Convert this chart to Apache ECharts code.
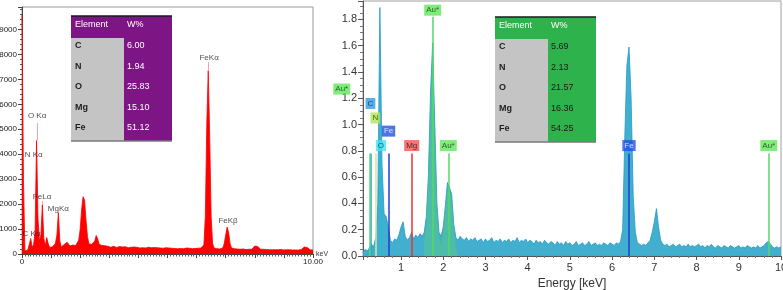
<!DOCTYPE html>
<html>
<head>
<meta charset="utf-8">
<script src="https://cdn.jsdelivr.net/npm/echarts@6/dist/echarts.min.js"></script>
<style>
html, body { margin: 0; padding: 0; background: #fff; }
#chart { width: 783px; height: 290px; }
</style>
</head>
<body>
<div id="chart"></div>
<script>
// --- Données ---

// Tableaux de composition (W%)
const elements = ['C', 'N', 'O', 'Mg', 'Fe'];
const wGauche = ['6.00', '1.94', '25.83', '15.10', '51.12'];
const wDroite = ['5.69', '2.13', '21.57', '16.36', '54.25'];

// Spectre de gauche : comptages tous les 0.05 keV, de 0 à 10 keV
const pasGauche = 0.05;
const debutGauche = 0;
const comptagesGauche = [
    9600, 3000, 120, 90, 160, 380, 620, 260, 380, 900, 4550, 1400, 520, 760, 1980, 620, 330, 660, 420, 260,
    320, 290, 340, 430, 760, 1660, 520, 280, 330, 380, 450, 470, 390, 320, 300, 360, 310, 340, 400, 560,
    1000, 1800, 2300, 2150, 1350, 700, 400, 360, 390, 420, 520, 740, 610, 390, 320, 340, 300, 330, 290, 310,
    300, 270, 290, 310, 280, 260, 290, 300, 270, 280, 260, 290, 270, 250, 280, 270, 260, 280, 250, 270,
    260, 240, 270, 250, 260, 240, 250, 270, 240, 250, 230, 260, 240, 250, 230, 240, 260, 230, 240, 250,
    230, 240, 220, 230, 250, 220, 230, 210, 240, 220, 230, 210, 220, 240, 210, 230, 220, 210, 230, 220,
    210, 230, 220, 240, 250, 360, 1500, 5200, 7350, 4700, 1500, 420, 240, 220, 210, 230, 200, 220, 240, 420,
    760, 1080, 860, 420, 240, 200, 210, 190, 200, 210, 190, 180, 200, 190, 180, 200, 190, 180, 190, 240,
    320, 380, 300, 220, 190, 180, 190, 170, 180, 190, 170, 180, 170, 190, 170, 180, 170, 160, 180, 170,
    160, 180, 170, 160, 170, 180, 160, 170, 160, 170, 160, 170, 180, 220, 280, 330, 260, 190, 170, 160,
    160
];

// Pics annotés du spectre de gauche
const picsGauche = ['O Kα', 'N Kα', 'FeLα', 'MgKα', 'C Kα', 'FeKα', 'FeKβ'];
const picsGaucheKeV = [0.52, 0.40, 0.69, 1.25, 0.33, 6.43, 7.08];
const picsGaucheHaut = [5520, 3960, 2280, 1800, 800, 7880, 1320];
// traits roses au-dessus des pics : [keV, bas, haut]
const traitsGauche = [[0.52, 4560, 5250], [0.70, 1980, 2120], [6.40, 7350, 7700]];

// Spectre de droite : intensité tous les 0.05 keV, de 0.10 à 10 keV
const pasDroite = 0.05;
const debutDroite = 0.1;
const intensitesDroite = [
    0.03, 0.05, 0.04, 0.06, 0.09, 0.07, 0.14, 0.40, 1.89, 0.70, 0.32, 0.30, 0.22, 0.12, 0.10, 0.13, 0.12, 0.16,
    0.22, 0.26, 0.15, 0.12, 0.14, 0.18, 0.13, 0.16, 0.14, 0.17, 0.15, 0.18, 0.30, 0.62, 1.25, 1.62, 1.00, 0.40, 0.18, 0.15,
    0.22, 0.38, 0.56, 0.52, 0.47, 0.24, 0.14, 0.12, 0.15, 0.13, 0.12, 0.14, 0.11, 0.13, 0.12, 0.14, 0.11, 0.12, 0.13, 0.10,
    0.13, 0.11, 0.12, 0.14, 0.10, 0.12, 0.11, 0.13, 0.10, 0.12, 0.11, 0.13, 0.10, 0.12, 0.11, 0.14, 0.10, 0.12, 0.11, 0.13,
    0.10, 0.12, 0.11, 0.09, 0.12, 0.10, 0.11, 0.09, 0.12, 0.10, 0.09, 0.11, 0.10, 0.08, 0.11, 0.09, 0.10, 0.08, 0.11, 0.09,
    0.10, 0.08, 0.09, 0.11, 0.08, 0.09, 0.10, 0.08, 0.09, 0.11, 0.08, 0.09, 0.10, 0.08, 0.09, 0.08, 0.10, 0.09, 0.08, 0.10,
    0.09, 0.08, 0.10, 0.09, 0.11, 0.20, 0.90, 1.45, 1.59, 1.20, 0.45, 0.18, 0.10, 0.09, 0.08, 0.09, 0.08, 0.10, 0.12, 0.18,
    0.26, 0.36, 0.22, 0.12, 0.09, 0.08, 0.09, 0.07, 0.08, 0.09, 0.07, 0.08, 0.09, 0.07, 0.08, 0.07, 0.09, 0.07, 0.08, 0.07,
    0.08, 0.09, 0.07, 0.08, 0.06, 0.08, 0.07, 0.09, 0.07, 0.06, 0.08, 0.07, 0.06, 0.08, 0.07, 0.06, 0.08, 0.07, 0.06, 0.07,
    0.08, 0.06, 0.07, 0.06, 0.08, 0.07, 0.06, 0.07, 0.06, 0.08, 0.06, 0.07, 0.08, 0.10, 0.11, 0.09, 0.07, 0.06, 0.07, 0.06,
    0.07
];

// Composante verte (Au) autour des pics à 1.75 et 2.12 keV
const composanteAu = [
    [1.55, 0.10], [1.60, 0.22], [1.65, 0.55], [1.70, 1.15], [1.75, 1.50], [1.80, 0.92], [1.85, 0.34],
    [1.90, 0.12], [1.95, 0.08], [2.00, 0.16], [2.05, 0.33], [2.10, 0.52], [2.15, 0.49], [2.20, 0.43],
    [2.25, 0.20], [2.30, 0.06], [2.35, 0.00]
];

// Raies identifiées sur le spectre de droite
const raies = ['C', 'Au*', 'N', 'O', 'Fe', 'Mg', 'Au*', 'Au*', 'Fe', 'Au*'];
const raiesKeV = [0.277, 0.26, 0.392, 0.525, 0.705, 1.254, 1.75, 2.12, 6.40, 9.71];

// --- Mise en forme des raies (positions en unités d'axe) ---
const raiesHaut = [0.78, 0.78, 0.78, 0.78, 0.78, 0.78, 1.82, 0.78, 0.78, 0.78];
const raiesEtiquetteY = [1.16, 1.27, 1.05, 0.84, 0.95, 0.84, 1.87, 0.84, 0.84, 0.84];
const raiesDecalage = [0, -28, 0, 0, 0, 0, 0, 0, 0, 0];
const couleursRaies = {
    'C':   { fond: '#2f9be4', texte: '#10243a', trait: '#2f9be4' },
    'Au*': { fond: '#5fe65a', texte: '#153a12', trait: '#55d86a' },
    'N':   { fond: '#b3e653', texte: '#2b3a10', trait: '#d6e6a0' },
    'O':   { fond: '#3fe4f2', texte: '#0d3640', trait: '#28b8da' },
    'Fe':  { fond: '#1f52e0', texte: '#ffffff', trait: '#1a40d0' },
    'Mg':  { fond: '#f05252', texte: '#3a0d0d', trait: '#e83434' }
};

const police = 'Liberation Sans, Arial, sans-serif';

/**
 * Construit les éléments graphiques d'un tableau de composition
 */
function tableau(x, y, couleur, valeurs, couleurValeurs) {
    const larg = 101, colGris = 53, hEntete = 22, hLigne = 20.6;
    const hTotal = hEntete + hLigne * elements.length;
    const enfants = [
        { type: 'rect', shape: { x: x, y: y, width: larg, height: hTotal }, style: { fill: couleur } },
        { type: 'rect', shape: { x: x, y: y + hEntete, width: colGris, height: hTotal - hEntete }, style: { fill: '#c4c4c4' } },
        { type: 'line', shape: { x1: x, y1: y, x2: x + larg, y2: y }, style: { stroke: '#1a1a1a', lineWidth: 1.5 } },
        { type: 'line', shape: { x1: x, y1: y + hTotal, x2: x + larg, y2: y + hTotal }, style: { stroke: '#7a7a7a', lineWidth: 1.5 } },
        { type: 'text', style: { text: 'Element', x: x + 4, y: y + 9, fill: '#ffffff', fontSize: 9, fontFamily: police, verticalAlign: 'middle' } },
        { type: 'text', style: { text: 'W%', x: x + colGris + 3, y: y + 9, fill: '#ffffff', fontSize: 9, fontFamily: police, verticalAlign: 'middle' } }
    ];
    elements.forEach((el, i) => {
        const yt = y + hEntete + hLigne * i + 7.5;
        enfants.push({ type: 'text', style: { text: el, x: x + 4, y: yt, fill: '#1e1e1e', fontSize: 9, fontWeight: 'bold', fontFamily: police, verticalAlign: 'middle' } });
        enfants.push({ type: 'text', style: { text: valeurs[i], x: x + colGris + 3, y: yt, fill: couleurValeurs, fontSize: 9, fontFamily: police, verticalAlign: 'middle' } });
    });
    return { type: 'group', z: 100, children: enfants };
}

const spectreGauche = comptagesGauche.map((v, i) => [+(debutGauche + i * pasGauche).toFixed(2), v]);
const spectreDroite = intensitesDroite.map((v, i) => [+(debutDroite + i * pasDroite).toFixed(2), v]);

const option = {
    animation: false,
    backgroundColor: '#ffffff',
    grid: [
        { left: 22, top: 7, right: 470, bottom: 36, show: true, borderColor: '#9a9a9a', borderWidth: 1, outerBoundsMode: 'none' },
        { left: 363, top: 1, right: 2, bottom: 34, show: true, borderColor: '#a0a0a0', borderWidth: 1, outerBoundsMode: 'none' }
    ],
    xAxis: [
        {
            gridIndex: 0, type: 'value', min: 0, max: 10, interval: 1,
            name: 'keV', nameLocation: 'end', nameGap: 3,
            nameTextStyle: { fontSize: 7, color: '#333', fontFamily: police, padding: [0, 0, 6, 0] },
            axisLine: { show: true, lineStyle: { color: '#444', width: 1 } },
            axisTick: { show: true, length: 4, lineStyle: { color: '#444' } },
            minorTick: { show: true, splitNumber: 10, length: 2.5, lineStyle: { color: '#555' } },
            axisLabel: {
                fontSize: 8, color: '#222', fontFamily: police, margin: 4,
                formatter: v => (v === 0 ? '0' : v === 10 ? '10.00' : '')
            },
            splitLine: { show: false }
        },
        {
            gridIndex: 1, type: 'value', min: 0.1, max: 10, splitNumber: 10,
            name: 'Energy [keV]', nameLocation: 'middle', nameGap: 22,
            nameTextStyle: { fontSize: 12, color: '#333', fontFamily: police },
            axisLine: { show: true, lineStyle: { color: '#555', width: 1 } },
            axisTick: { show: true, length: 4, lineStyle: { color: '#555' } },
            minorTick: { show: true, splitNumber: 5, length: 2, lineStyle: { color: '#777' } },
            axisLabel: { fontSize: 11, color: '#333', fontFamily: police, margin: 6, showMinLabel: false },
            splitLine: { show: false }
        }
    ],
    yAxis: [
        {
            gridIndex: 0, type: 'value', min: 0, max: 9900, interval: 1000,
            axisLine: { show: true, lineStyle: { color: '#444', width: 1 } },
            axisTick: { show: true, length: 4, lineStyle: { color: '#444' } },
            minorTick: { show: true, splitNumber: 5, length: 2, lineStyle: { color: '#555' } },
            axisLabel: { fontSize: 8, color: '#222', fontFamily: police, margin: 5, showMaxLabel: false, formatter: v => String(v) },
            splitLine: { show: false }
        },
        {
            gridIndex: 1, type: 'value', min: 0, max: 1.94, interval: 0.2,
            axisLine: { show: true, lineStyle: { color: '#555', width: 1 } },
            axisTick: { show: true, length: 5, lineStyle: { color: '#555' } },
            minorTick: { show: true, splitNumber: 4, length: 3, lineStyle: { color: '#777' } },
            axisLabel: { fontSize: 11, color: '#333', fontFamily: police, margin: 6, showMaxLabel: false, formatter: v => v.toFixed(1) },
            splitLine: { show: false }
        }
    ],
    graphic: [
        tableau(71, 16, '#7e1585', wGauche, '#ffffff'),
        tableau(495, 17, '#2eb24c', wDroite, '#1a1a1a')
    ],
    series: [
        {
            type: 'line', xAxisIndex: 0, yAxisIndex: 0,
            data: spectreGauche, symbol: 'none', sampling: null,
            lineStyle: { color: '#ff0000', width: 0.8 },
            areaStyle: { color: '#ff0000', opacity: 1 },
            markLine: {
                silent: true, symbol: ['none', 'none'], label: { show: false },
                lineStyle: { color: '#f4a3ad', width: 1, type: 'solid' },
                data: traitsGauche.map(t => [{ coord: [t[0], t[1]] }, { coord: [t[0], t[2]] }])
            }
        },
        {
            type: 'scatter', xAxisIndex: 0, yAxisIndex: 0, symbolSize: 0, clip: false, z: 20,
            data: picsGauche.map((n, i) => ({ name: n, value: [picsGaucheKeV[i], picsGaucheHaut[i]] })),
            label: { show: true, position: 'inside', formatter: '{b}', fontSize: 8, color: '#222', fontFamily: police }
        },
        {
            type: 'line', xAxisIndex: 1, yAxisIndex: 1,
            data: spectreDroite, symbol: 'none', sampling: null,
            lineStyle: { color: '#1f9bc6', width: 0.8 },
            areaStyle: { color: '#33a8cb', opacity: 0.92 }
        },
        {
            type: 'line', xAxisIndex: 1, yAxisIndex: 1,
            data: composanteAu, symbol: 'none',
            lineStyle: { color: '#5cc86a', width: 0.6, opacity: 0.6 },
            areaStyle: { color: '#5ccf7a', opacity: 0.45 },
            markLine: {
                silent: true, symbol: ['none', 'none'], label: { show: false },
                data: raies.map((n, i) => [
                    { coord: [raiesKeV[i], 0], lineStyle: { color: couleursRaies[n].trait, width: 1.5, type: 'solid', opacity: 1 } },
                    { coord: [raiesKeV[i], raiesHaut[i]] }
                ])
            }
        },
        {
            type: 'scatter', xAxisIndex: 1, yAxisIndex: 1, symbolSize: 0, clip: false, z: 20,
            data: raies.map((n, i) => ({
                name: n,
                value: [raiesKeV[i], raiesEtiquetteY[i]],
                label: {
                    backgroundColor: couleursRaies[n].fond,
                    color: couleursRaies[n].texte,
                    offset: [raiesDecalage[i], 0]
                }
            })),
            label: { show: true, position: 'inside', formatter: '{b}', fontSize: 8, fontFamily: police, padding: [2, 2, 1, 2] }
        }
    ]
};

const graphique = echarts.init(document.getElementById('chart'));
graphique.setOption(option);
</script>
</body>
</html>
